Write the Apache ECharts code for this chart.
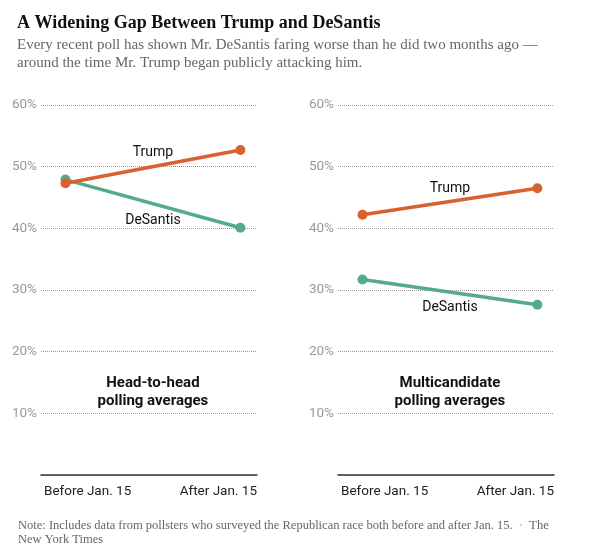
<!DOCTYPE html>
<html>
<head>
<meta charset="utf-8">
<script src="https://cdn.jsdelivr.net/npm/echarts@6/dist/echarts.min.js"></script>
<style>html,body{margin:0;padding:0;background:#fff;}#c{width:600px;height:549px;}</style>
</head>
<body>
<div id="c"></div>
<script>
const categories = ['Before Jan. 15', 'After Jan. 15'];
const yTicks = [0, 10, 20, 30, 40, 50, 60];
const panelTitles = ['Head-to-head\npolling averages', 'Multicandidate\npolling averages'];
const headTrump = [47.3, 52.7];
const headDeSantis = [47.9, 40.1];
const multiTrump = [42.2, 46.5];
const multiDeSantis = [31.7, 27.6];

const TRUMP = '#d9602f';
const DESANTIS = '#55aa8e';
const SANS = "'Roboto', 'Liberation Sans', sans-serif";
const SERIF = "'Liberation Serif', 'DejaVu Serif', serif";
const XMIN = -0.14, XMAX = 1.095;

function pts(arr) { return arr.map((v, i) => [i, v]); }

const chart = echarts.init(document.getElementById('c'), null, {renderer: 'canvas'});

const grids = [
  {left: 41, top: 105, width: 216, height: 370},
  {left: 338, top: 105, width: 216, height: 370}
];

function xAxis(i) {
  return {
    type: 'value', gridIndex: i, min: XMIN, max: XMAX,
    axisLine: {show: true, onZero: false, lineStyle: {color: '#333', width: 1.5}},
    axisTick: {show: false},
    splitLine: {show: false},
    axisLabel: {
      customValues: [XMIN, XMAX],
      alignMinLabel: 'left', alignMaxLabel: 'right',
      showMinLabel: true, showMaxLabel: true,
      formatter: v => (v < 0.5 ? categories[0] : categories[1]),
      color: '#222', fontSize: 13.5, fontFamily: SANS, margin: 10,
      padding: [0, 0, 0, 3]
    }
  };
}
function yAxis(i) {
  return {
    type: 'value', gridIndex: i, min: yTicks[0], max: yTicks[yTicks.length - 1], interval: 10,
    axisLine: {show: false}, axisTick: {show: false},
    splitLine: {show: true, lineStyle: {color: '#999', width: 1, type: [1, 1]}},
    axisLabel: {
      formatter: v => (v === 0 ? '' : v + '%'),
      color: '#999', fontSize: 13.5, fontFamily: SANS, margin: 4
    }
  };
}
function line(data, color, i, name) {
  return {
    type: 'line', name: name, xAxisIndex: i, yAxisIndex: i, data: pts(data),
    lineStyle: {color: color, width: 3.5},
    itemStyle: {color: color},
    symbol: 'circle', symbolSize: 10, showSymbol: true,
    z: name === 'Trump' ? 3 : 2,
    animation: false
  };
}

chart.setOption({
  animation: false,
  title: [
    {text: 'A Widening Gap Between Trump and DeSantis', left: 12, top: 9,
     textStyle: {fontFamily: SERIF, fontWeight: 'bold', fontSize: 18, color: '#111'}},
    {text: 'Every recent poll has shown Mr. DeSantis faring worse than he did two months ago —\naround the time Mr. Trump began publicly attacking him.',
     left: 12, top: 31,
     textStyle: {fontFamily: SERIF, fontWeight: 'normal', fontSize: 15, color: '#666', lineHeight: 18}},
    {text: '{n|Note: Includes data from pollsters who surveyed the Republican race both before and after Jan. 15.}{d|   •   }{n|The}\n{n|New York Times}',
     left: 13, top: 514,
     textStyle: {fontWeight: 'normal', rich: {
       n: {fontFamily: SERIF, fontWeight: 'normal', fontSize: 12.5, color: '#666', lineHeight: 14},
       d: {fontFamily: SERIF, fontWeight: 'normal', fontSize: 9, color: '#ccc', lineHeight: 14}
     }}}
  ],
  grid: grids,
  xAxis: [xAxis(0), xAxis(1)],
  yAxis: [yAxis(0), yAxis(1)],
  series: [
    line(headDeSantis, DESANTIS, 0, 'DeSantis'),
    line(headTrump, TRUMP, 0, 'Trump'),
    line(multiDeSantis, DESANTIS, 1, 'DeSantis'),
    line(multiTrump, TRUMP, 1, 'Trump')
  ]
});

function mid(arr) { return (arr[0] + arr[1]) / 2; }
function lab(text, gi, arr, dy) {
  const p = chart.convertToPixel({gridIndex: gi}, [0.5, mid(arr)]);
  return {type: 'text', x: p[0], y: p[1] + dy,
    style: {text: text, fill: '#111', font: '14px ' + SANS, align: 'center', verticalAlign: 'middle'}};
}
function ptitle(gi) {
  const p = chart.convertToPixel({gridIndex: gi}, [0.5, 0]);
  return {type: 'text', x: p[0], y: 374,
    style: {text: panelTitles[gi], fill: '#111', font: 'bold 15px ' + SANS, align: 'center', verticalAlign: 'top', lineHeight: 18}};
}
chart.setOption({
  graphic: [
    lab('Trump', 0, headTrump, -14),
    lab('DeSantis', 0, headDeSantis, 17),
    lab('Trump', 1, multiTrump, -13),
    lab('DeSantis', 1, multiDeSantis, 15),
    ptitle(0), ptitle(1)
  ]
});
</script>
</body>
</html>
